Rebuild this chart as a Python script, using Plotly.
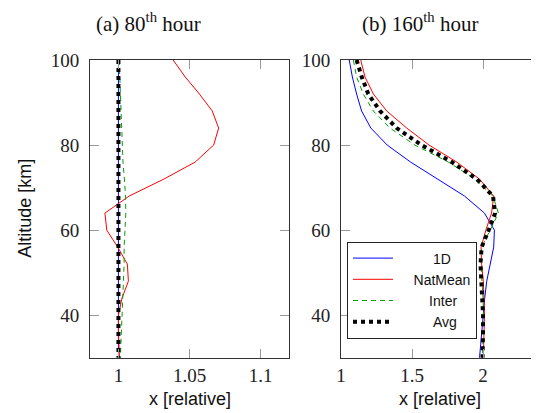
import plotly.graph_objects as go

# The page body has an 8px default margin; the figure is sized so that it fills the 539x413 window.
OFF = 8
W, H = 539 - OFF, 413 - OFF


def fx(px):
    return (px - OFF) / W


def fy(py):
    return 1 - (py - OFF) / H


# ---------------- data ----------------
alt = [100, 96, 92, 88, 84, 80, 76, 72, 68, 64, 60, 56, 52, 48, 44, 40, 36, 32, 28]

# (a) 80th hour
a_1d = [1.0] * len(alt)
a_natmean = [1.0385, 1.047, 1.057, 1.066, 1.0705, 1.067, 1.054, 1.032, 1.0075, 0.9905,
             0.9918, 0.9995, 1.0063, 1.007, 1.0025, 1.0, 1.0, 1.0005, 1.001]
a_inter = [1.0005, 1.001, 1.0013, 1.0018, 1.002, 1.0025, 1.0032, 1.0042, 1.005, 1.0052,
           1.0045, 1.004, 1.004, 1.0035, 1.0028, 1.0022, 1.0018, 1.0016, 1.0015]
a_avg = [1.0] * len(alt)

# (b) 160th hour
b_1d = [1.058, 1.08, 1.11, 1.145, 1.21, 1.325, 1.49, 1.68, 1.87, 2.01,
        2.08, 2.075, 2.05, 2.026, 2.012, 2.0, 1.99, 1.98, 1.97]
b_natmean = [1.139, 1.169, 1.228, 1.322, 1.463, 1.62, 1.815, 1.975, 2.075, 2.06,
             2.02, 1.986, 1.99, 2.002, 2.007, 2.01, 2.007, 2.003, 2.0]
b_inter = [1.087, 1.11, 1.157, 1.228, 1.345, 1.52, 1.756, 1.944, 2.07, 2.108,
           2.05, 1.99, 1.985, 1.995, 2.0, 2.003, 2.0, 1.998, 1.995]
b_avg = [1.11, 1.146, 1.192, 1.275, 1.392, 1.568, 1.78, 1.956, 2.07, 2.085,
         2.04, 1.99, 1.982, 1.99, 1.998, 2.0, 2.0, 1.998, 1.995]

series_names = ["1D", "NatMean", "Inter", "Avg"]
legend_labels = ["\u00a0" * 9 + "1D", "\u00a0" * 4 + "NatMean", "\u00a0" * 8 + "Inter", "\u00a0" * 9 + "Avg"]

a_ticks = [1, 1.05, 1.1]
a_ticktext = ["1", "1.05", "1.1"]
b_ticks = [1, 1.5, 2]
b_ticktext = ["1", "1.5", "2"]
y_ticks = [40, 60, 80, 100]

titles = ["(a) 80<sup>th</sup> hour", "(b) 160<sup>th</sup> hour"]
xtitle = "x [relative]"
ytitle = "Altitude [km]"

# ---------------- styles ----------------
styles = [
    dict(color="#0000ff", width=1),
    dict(color="#ff0000", width=1),
    dict(color="#00a000", width=1, dash="5px,4px"),
    dict(color="#000000", width=4, dash="dot"),
]

SERIF = "Liberation Serif, Times New Roman, serif"
SANS = "Liberation Sans, Arial, sans-serif"

fig = go.Figure()
a_data = [a_1d, a_natmean, a_inter, a_avg]
b_data = [b_1d, b_natmean, b_inter, b_avg]
for i, name in enumerate(series_names):
    fig.add_trace(go.Scatter(x=a_data[i], y=alt, mode="lines", line=styles[i], name=legend_labels[i],
                             showlegend=False, xaxis="x", yaxis="y", legendgroup=name))
for i, name in enumerate(series_names):
    fig.add_trace(go.Scatter(x=b_data[i], y=alt, mode="lines", line=styles[i], name=legend_labels[i],
                             showlegend=True, xaxis="x2", yaxis="y2", legendgroup=name))

ytop = fy(60)
ybot = fy(357.7)

common_axis = dict(
    showline=True, linecolor="#333333", linewidth=1,
    ticks="inside", ticklen=9, tickcolor="#999999", tickwidth=1,
    showgrid=False, zeroline=False, automargin=False,
    tickfont=dict(family=SERIF, size=19, color="#222222"),
)

ann_font_serif = dict(family=SERIF, size=21, color="#111111")
ann_font_sans = dict(family=SANS, size=18, color="#111111")

fig.update_layout(
    width=W, height=H,
    margin=dict(l=0, r=0, t=0, b=0, autoexpand=False),
    paper_bgcolor="white", plot_bgcolor="white",
    xaxis=dict(domain=[fx(90), fx(289)], range=[0.98, 1.12], tickvals=a_ticks, ticktext=a_ticktext,
               mirror="ticks", anchor="y", **common_axis),
    yaxis=dict(domain=[ybot, ytop], range=[30, 100], tickvals=y_ticks, mirror="ticks", anchor="x",
               ticklabelstandoff=6, **common_axis),
    xaxis2=dict(domain=[fx(341), 1.0], range=[1, 2.394], tickvals=b_ticks, ticktext=b_ticktext,
                mirror="ticks", anchor="y2", **common_axis),
    yaxis2=dict(domain=[ybot, ytop], range=[30, 100], tickvals=y_ticks, mirror=False, anchor="x2",
                ticklabelstandoff=6, **common_axis),
    legend=dict(
        xref="paper", yref="paper",
        x=fx(347), y=fy(290), xanchor="left", yanchor="middle",
        bordercolor="#222222", borderwidth=1, bgcolor="white",
        font=dict(family=SANS, size=14, color="#111111"),
        itemwidth=40, tracegroupgap=0, traceorder="grouped",
    ),
    annotations=[
        dict(text=titles[0], x=fx(148), y=fy(23), xref="paper", yref="paper",
             showarrow=False, font=ann_font_serif, xanchor="center", yanchor="middle"),
        dict(text=titles[1], x=fx(420), y=fy(23), xref="paper", yref="paper",
             showarrow=False, font=ann_font_serif, xanchor="center", yanchor="middle"),
        dict(text=xtitle, x=0.5, y=fy(399), xref="x domain", yref="paper",
             showarrow=False, font=ann_font_sans, xanchor="center", yanchor="middle"),
        dict(text=xtitle, x=0.5, y=fy(399), xref="x2 domain", yref="paper",
             showarrow=False, font=ann_font_sans, xanchor="center", yanchor="middle"),
        dict(text=ytitle, x=fx(25), y=0.5, xref="paper", yref="y domain", textangle=-90,
             showarrow=False, font=ann_font_sans, xanchor="center", yanchor="middle"),
    ],
)

fig.write_html("out.html")
